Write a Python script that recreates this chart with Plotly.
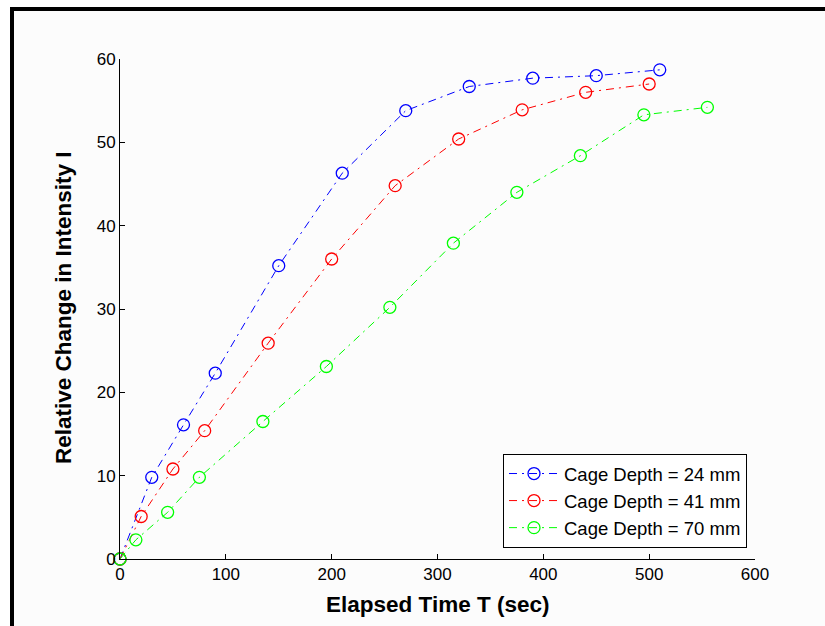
import plotly.graph_objects as go

# ---- data ----
t_24 = [0, 30, 60, 90, 150, 210, 270, 330, 390, 450, 510]
i_24 = [0, 9.8, 16.1, 22.3, 35.2, 46.3, 53.8, 56.7, 57.7, 58.0, 58.7]

t_41 = [0, 20, 50, 80, 140, 200, 260, 320, 380, 440, 500]
i_41 = [0, 5.1, 10.8, 15.4, 25.9, 36.0, 44.8, 50.4, 53.9, 56.0, 57.0]

t_70 = [0, 15, 45, 75, 135, 195, 255, 315, 375, 435, 495, 555]
i_70 = [0, 2.3, 5.6, 9.8, 16.5, 23.1, 30.2, 37.9, 44.0, 48.4, 53.3, 54.2]

names = ["Cage Depth = 24 mm", "Cage Depth = 41 mm", "Cage Depth = 70 mm"]
colors = ["#0000ff", "#ff0000", "#00ff00"]
x_ticks = [0, 100, 200, 300, 400, 500, 600]
y_ticks = [0, 10, 20, 30, 40, 50, 60]

FONT = "Liberation Sans, Arial, sans-serif"

fig = go.Figure()
for xs, ys, nm, c in zip([t_24, t_41, t_70], [i_24, i_41, i_70], names, colors):
    fig.add_trace(go.Scatter(
        x=xs, y=ys, name=nm, mode="lines+markers",
        line=dict(color=c, width=1, dash="8px,5px,2px,5px"),
        marker=dict(symbol="circle-open", size=12, color=c,
                    line=dict(color=c, width=1.3)),
        cliponaxis=False,
    ))

# plot area: x 120..755 px, y 59..559 px
W, H = 825, 626
L, R, T, B = 120, 70, 59, 67
pw, ph = W - L - R, H - T - B

def px(x):
    return (x - L) / pw

def py(y):
    return (H - B - y) / ph

fig.add_shape(type="rect", xref="paper", yref="paper",
              x0=px(12), x1=px(845), y0=py(645), y1=py(9),
              line=dict(color="black", width=4), fillcolor="#fcfcfc",
              layer="below")

fig.add_annotation(text="<b>Elapsed Time T (sec)</b>", xref="paper", yref="paper",
                   x=px(437), y=py(604), showarrow=False,
                   xanchor="center", yanchor="middle",
                   font=dict(family=FONT, size=22.5, color="black"))
fig.add_annotation(text="<b>Relative Change in Intensity I</b>", xref="paper", yref="paper",
                   x=px(63), y=py(308), showarrow=False, textangle=-90,
                   xanchor="center", yanchor="middle",
                   font=dict(family=FONT, size=22.5, color="black"))

fig.update_layout(
    width=W, height=H,
    margin=dict(l=L, r=R, t=T, b=B),
    paper_bgcolor="white", plot_bgcolor="rgba(0,0,0,0)",
    font=dict(family=FONT, size=17, color="black"),
    showlegend=True,
    legend=dict(x=px(747), xanchor="right", y=py(454), yanchor="top",
                bgcolor="white", bordercolor="black", borderwidth=1,
                font=dict(family=FONT, size=18.5, color="black"),
                itemwidth=50),
)
fig.update_xaxes(range=[0, 600], tickvals=x_ticks, ticks="inside", ticklen=5,
                 tickcolor="black", showline=True, linecolor="black", linewidth=1,
                 showgrid=False, zeroline=False, mirror=False,
                 tickfont=dict(family=FONT, size=17, color="black"))
fig.update_yaxes(range=[0, 60], tickvals=y_ticks, ticks="inside", ticklen=5,
                 tickcolor="black", showline=True, linecolor="black", linewidth=1,
                 showgrid=False, zeroline=False, mirror=False,
                 tickfont=dict(family=FONT, size=17, color="black"))

fig.write_html("out.html")
